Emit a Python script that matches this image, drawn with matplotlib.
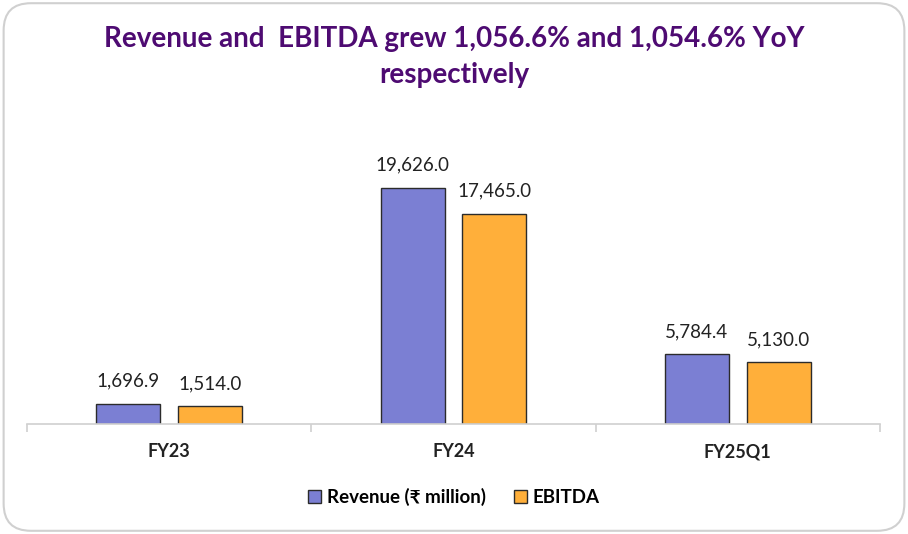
import numpy as np
import matplotlib.pyplot as plt
from matplotlib.patches import FancyBboxPatch, Patch

plt.rcParams['font.family'] = ['Lato', 'DejaVu Sans']

categories = ["FY23", "FY24", "FY25Q1"]
revenue = [1696.9, 19626.0, 5784.4]
ebitda = [1514.0, 17465.0, 5130.0]
series_names = ["Revenue (\u20b9 million)", "EBITDA"]
title = "Revenue and  EBITDA grew 1,056.6% and 1,054.6% YoY\nrespectively"

purple = "#7B7FD3"
orange = "#FFAF3A"
edge = "#2B2B2B"

fig = plt.figure(figsize=(9.08, 5.34), dpi=100)

# rounded outer border
border = FancyBboxPatch((0.004, 0.006), 0.992, 0.988, boxstyle="round,pad=0,rounding_size=0.03",
                        transform=fig.transFigure, facecolor="none", edgecolor="#D0D0D0",
                        linewidth=1.5, mutation_aspect=908 / 534, zorder=-1)
fig.patches.append(border)

ax = fig.add_axes([27 / 908, 110 / 534, 853 / 908, 289 / 534])
ax.set_facecolor("none")

x = np.arange(len(categories))
w = 0.225
off = 0.144
b1 = ax.bar(x - off, revenue, w, color=purple, edgecolor=edge, linewidth=1)
b2 = ax.bar(x + off, ebitda, w, color=orange, edgecolor=edge, linewidth=1)

for bars, vals in [(b1, revenue), (b2, ebitda)]:
    for b, v in zip(bars, vals):
        ax.annotate(f"{v:,.1f}", (b.get_x() + b.get_width() / 2, v), xytext=(0, 10),
                    textcoords="offset points", ha="center", va="bottom",
                    fontsize=13.5, color="#222222")

ax.set_xlim(-0.5, len(categories) - 0.5)
ax.set_ylim(0, 24000)
ax.set_yticks([])
for s in ["top", "right", "left"]:
    ax.spines[s].set_visible(False)
ax.spines["bottom"].set_color("#D0D0D0")
ax.spines["bottom"].set_linewidth(1.2)

ax.set_xticks(np.arange(len(categories) + 1) - 0.5, minor=False)
ax.set_xticklabels([])
ax.tick_params(axis="x", which="major", length=6, color="#D0D0D0", width=1.2)
ax.set_xticks(x, minor=True)
ax.set_xticklabels(categories, minor=True, fontsize=13, fontweight="bold", color="#222222")
ax.tick_params(axis="x", which="minor", length=0, pad=14)

fig.text(0.5, 0.893, title, ha="center", va="center", fontsize=20, fontweight="bold",
         color="#4E0B72", linespacing=1.5)

handles = [Patch(facecolor=purple, edgecolor=edge, linewidth=1),
           Patch(facecolor=orange, edgecolor=edge, linewidth=1)]
fig.legend(handles, series_names, loc="center", bbox_to_anchor=(0.5, 1 - 497 / 534),
           ncol=2, frameon=False, handlelength=0.7, handleheight=0.7, handletextpad=0.3,
           columnspacing=1.5, prop={"size": 13.5, "weight": "bold"})

fig.savefig("out.png", dpi=100)
